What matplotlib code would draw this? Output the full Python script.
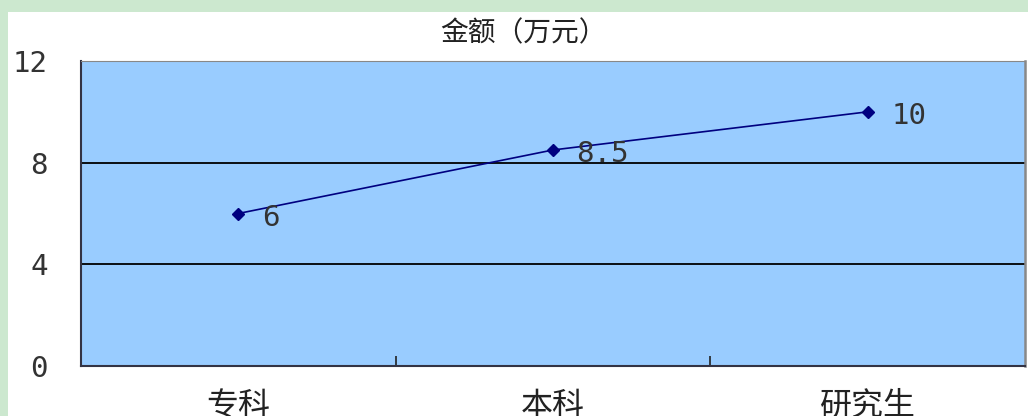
import matplotlib.pyplot as plt
from matplotlib.patches import Rectangle

categories = ["专科", "本科", "研究生"]
values = [6, 8.5, 10]
value_labels = ["6", "8.5", "10"]
y_ticks = [0, 4, 8, 12]
title = "金额（万元）"

plt.rcParams["font.family"] = ["Noto Sans CJK SC", "DejaVu Sans"]

W, H = 1028, 416
fig = plt.figure(figsize=(W / 100, H / 100), dpi=100)
fig.patch.set_facecolor("white")

# green frame of the slide: band on top, strip on the left
green = "#cce8cf"
fig.patches.append(Rectangle((0, 1 - 12 / H), 1, 12 / H, transform=fig.transFigure,
                             facecolor=green, edgecolor="none", zorder=0))
fig.patches.append(Rectangle((0, 0), 8 / W, 1, transform=fig.transFigure,
                             facecolor=green, edgecolor="none", zorder=0))

ax = fig.add_axes([81 / W, 50 / H, (1025 - 81) / W, (366 - 61) / H])
ax.set_facecolor("#99ccff")

x = list(range(len(categories)))
ax.plot(x, values, color="#000080", lw=1.2, marker="D", markersize=6, zorder=3)
for xi, v, lab in zip(x, values, value_labels):
    ax.annotate(lab, (xi, v), xytext=(17, -3), textcoords="offset points",
                ha="left", va="center", fontsize=21, color="#333333",
                family="DejaVu Sans Mono", zorder=4)

ax.set_xlim(-0.5, len(categories) - 0.5)
ax.set_ylim(0, 12)
ax.set_yticks(y_ticks)
ax.set_yticklabels([str(t) for t in y_ticks], family="DejaVu Sans Mono",
                   fontsize=21, color="#333333")
ax.tick_params(axis="y", length=0, pad=24)

ax.set_xticks(x)
ax.set_xticklabels(categories, fontsize=23, color="#222222")
ax.tick_params(axis="x", which="major", length=0, pad=17)
ax.set_xticks([0.5, 1.5], minor=True)
ax.tick_params(axis="x", which="minor", direction="in", length=7, width=1.2, color="#222222")

for yv in [4, 8]:
    ax.axhline(yv, color="black", lw=1.3, zorder=1)

ax.spines["left"].set_color("#333344")
ax.spines["bottom"].set_color("#333344")
ax.spines["left"].set_linewidth(1.5)
ax.spines["bottom"].set_linewidth(1.5)
ax.spines["top"].set_color("#888888")
ax.spines["right"].set_color("#888888")
ax.spines["right"].set_linewidth(1.8)

fig.text(523 / W, 1 - 33 / H, title, ha="center", va="center", fontsize=20, color="#222222")

fig.savefig("out.png", dpi=100)
